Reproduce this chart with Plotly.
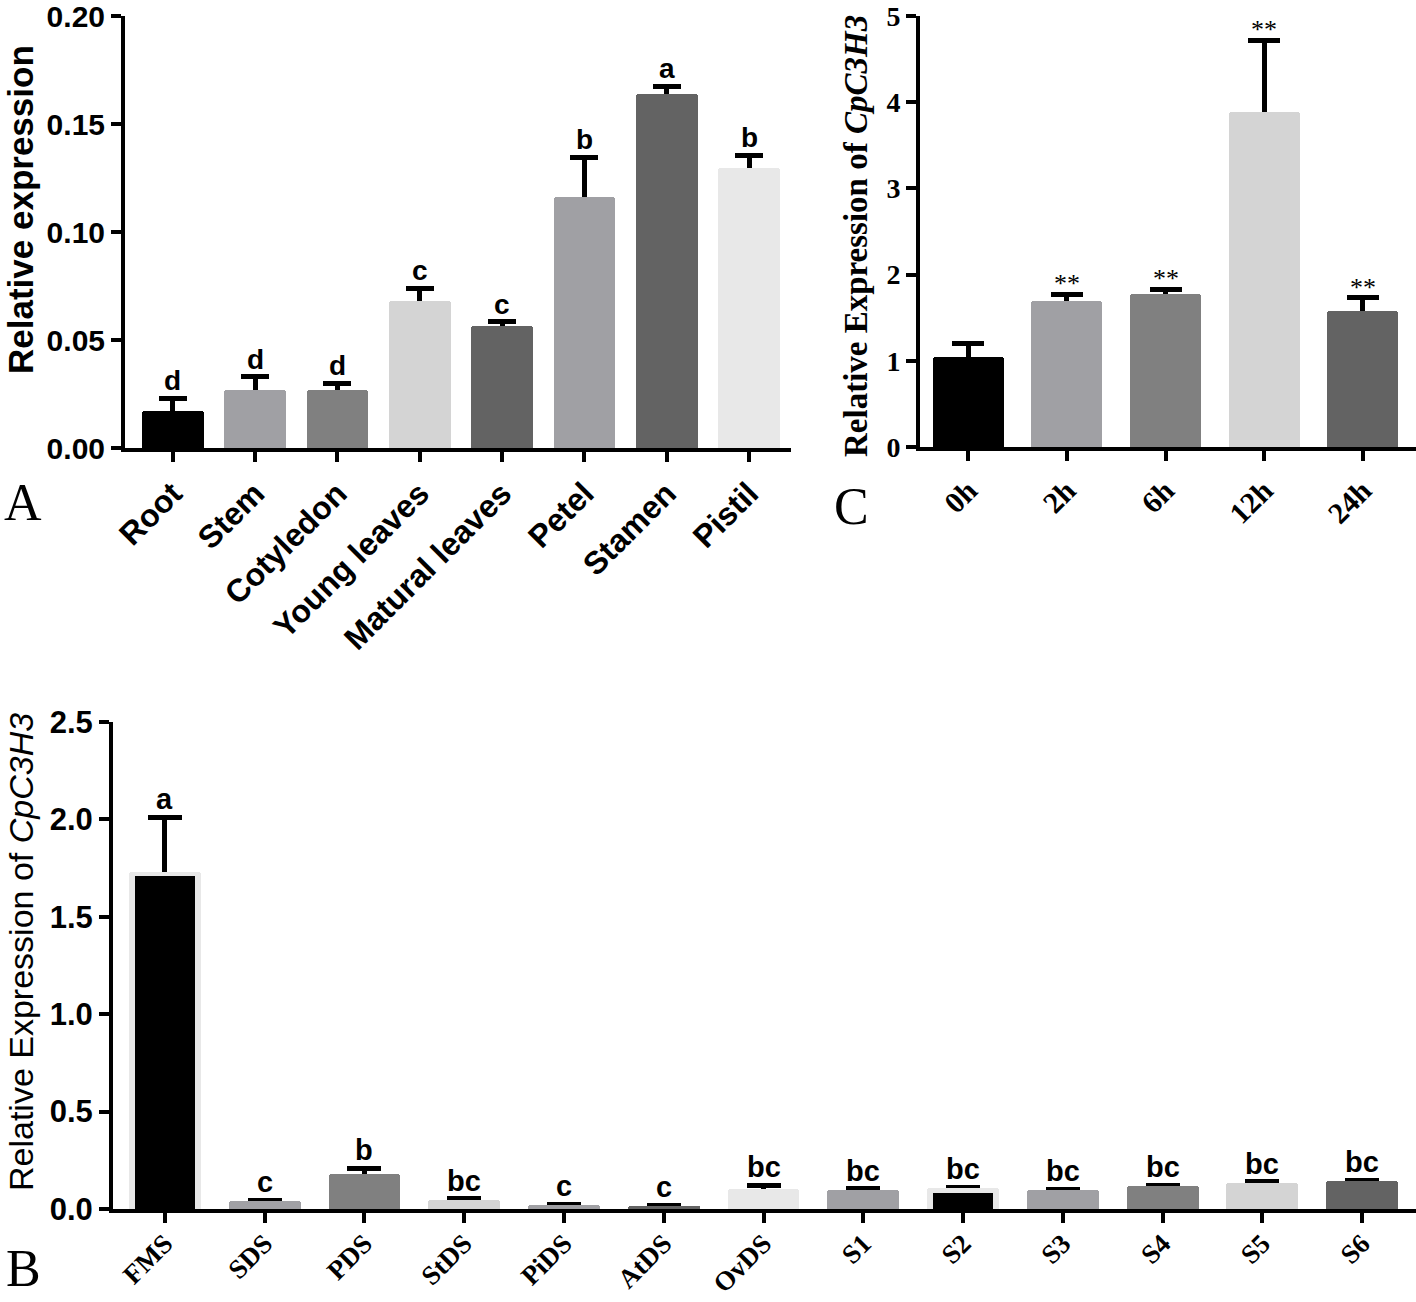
import plotly.graph_objects as go

# ---------------- Data ----------------
# Panel A
a_categories = ["Root", "Stem", "Cotyledon", "Young leaves", "Matural leaves", "Petel", "Stamen", "Pistil"]
a_values = [0.017, 0.027, 0.027, 0.068, 0.0565, 0.116, 0.164, 0.1295]
a_errors = [0.006, 0.006, 0.003, 0.006, 0.002, 0.0185, 0.0035, 0.006]
a_letters = ["d", "d", "d", "c", "c", "b", "a", "b"]

# Panel C
c_categories = ["0h", "2h", "6h", "12h", "24h"]
c_values = [1.04, 1.69, 1.77, 3.89, 1.58]
c_errors = [0.16, 0.08, 0.06, 0.83, 0.15]
c_marks = ["", "**", "**", "**", "**"]

# Panel B
b_categories = ["FMS", "SDS", "PDS", "StDS", "PiDS", "AtDS", "OvDS", "S1", "S2", "S3", "S4", "S5", "S6"]
b_values = [1.73, 0.04, 0.178, 0.047, 0.02, 0.015, 0.103, 0.1, 0.108, 0.097, 0.118, 0.135, 0.142]
b_errors = [0.28, 0.006, 0.03, 0.005, 0.004, 0.003, 0.02, 0.004, 0.004, 0.004, 0.005, 0.006, 0.006]
b_inner_categories = ["FMS", "S2"]
b_inner_values = [1.71, 0.08]
b_letters = ["a", "c", "b", "bc", "c", "c", "bc", "bc", "bc", "bc", "bc", "bc", "bc"]

# ---------------- Styles ----------------
BLACK = "#000000"
G1 = "#a0a0a4"
G2 = "#808080"
G3 = "#d4d4d4"
G4 = "#636363"
G5 = "#e8e8e8"
a_colors = [BLACK, G1, G2, G3, G4, G1, G4, G5]
c_colors = [BLACK, G1, G2, G3, G4]
b_colors = [G5, G1, G2, G3, G1, G4, G5, G1, G5, G1, G2, G3, G4]

SANS = "Arial, Liberation Sans, sans-serif"
SERIF = "Times New Roman, Liberation Serif, serif"

W, H = 1416, 1302


def px_x(p):
    return p / W


def px_y(p):
    return 1 - p / H


fig = go.Figure()


def add_bars(cats, vals, errs, colors, width, xa, ya, cap):
    # bars with upper error bars (lower part reaches the baseline and is hidden by the cover bars)
    fig.add_trace(go.Bar(
        x=cats, y=vals, xaxis=xa, yaxis=ya,
        marker=dict(color=colors, line=dict(width=0)), width=width,
        error_y=dict(type="data", array=errs, arrayminus=list(vals), symmetric=False,
                     color="black", thickness=5, width=cap),
        showlegend=False, hoverinfo="skip"))
    # cover bars (same data) hide the part of the error bar inside the bar
    fig.add_trace(go.Bar(
        x=cats, y=vals, xaxis=xa, yaxis=ya,
        marker=dict(color=colors, line=dict(width=0)), width=width,
        showlegend=False, hoverinfo="skip"))


add_bars(a_categories, a_values, a_errors, a_colors, 0.75, "x", "y", 14)
add_bars(c_categories, c_values, c_errors, c_colors, 0.72, "x2", "y2", 16)
add_bars(b_categories, b_values, b_errors, b_colors, 0.72, "x3", "y3", 17)
fig.add_trace(go.Bar(
    x=b_inner_categories, y=b_inner_values, xaxis="x3", yaxis="y3",
    marker=dict(color=BLACK, line=dict(width=0)), width=0.6,
    showlegend=False, hoverinfo="skip"))

annotations = []
for cat, v, e, t in zip(a_categories, a_values, a_errors, a_letters):
    annotations.append(dict(x=cat, y=v + e, xref="x", yref="y", text=t, showarrow=False,
                            yanchor="bottom", yshift=0,
                            font=dict(family=SANS, size=28, color="black", weight="bold")))
for cat, v, e, t in zip(c_categories, c_values, c_errors, c_marks):
    if t:
        annotations.append(dict(x=cat, y=v + e, xref="x2", yref="y2", text=t, showarrow=False,
                                yanchor="bottom", yshift=-6,
                                font=dict(family=SERIF, size=26, color="black")))
for cat, v, e, t in zip(b_categories, b_values, b_errors, b_letters):
    annotations.append(dict(x=cat, y=v + e, xref="x3", yref="y3", text=t, showarrow=False,
                            yanchor="bottom", yshift=0,
                            font=dict(family=SANS, size=29, color="black", weight="bold")))

# Axis titles
annotations.append(dict(x=px_x(21), y=px_y(210), xref="paper", yref="paper",
                        text="<b>Relative expression</b>", textangle=-90, showarrow=False,
                        xanchor="center", yanchor="middle",
                        font=dict(family=SANS, size=35, color="black")))
annotations.append(dict(x=px_x(856), y=px_y(236), xref="paper", yref="paper",
                        text="<b>Relative Expression of <i>CpC3H3</i></b>", textangle=-90, showarrow=False,
                        xanchor="center", yanchor="middle",
                        font=dict(family=SERIF, size=33, color="black")))
annotations.append(dict(x=px_x(21), y=px_y(952), xref="paper", yref="paper",
                        text="Relative Expression of <i>CpC3H3</i>", textangle=-90, showarrow=False,
                        xanchor="center", yanchor="middle",
                        font=dict(family=SANS, size=34, color="black")))

# Panel letters
for letter, lx, ly in [("A", 23, 503), ("C", 852, 506), ("B", 23, 1268)]:
    annotations.append(dict(x=px_x(lx), y=px_y(ly), xref="paper", yref="paper", text=letter,
                            showarrow=False, xanchor="center", yanchor="middle",
                            font=dict(family=SERIF, size=52, color="black")))

axis_common = dict(showline=True, linecolor="black", linewidth=4, ticks="outside",
                   ticklen=10, tickwidth=4, tickcolor="black", showgrid=False, zeroline=False,
                   automargin=False, ticklabeloverflow="allow")

fig.update_layout(
    template="none",
    width=W, height=H, margin=dict(l=0, r=0, t=0, b=0, autoexpand=False),
    paper_bgcolor="white", plot_bgcolor="white",
    barmode="overlay", bargap=0, barcornerradius=3,
    annotations=annotations,
    xaxis=dict(domain=[px_x(125), px_x(791)], anchor="y", type="category",
               range=[-0.58, 7.51], tickangle=-45,
               tickfont=dict(family=SANS, size=32, color="black", weight="bold"), **axis_common),
    yaxis=dict(domain=[px_y(448), px_y(16)], anchor="x", range=[0, 0.2],
               tickvals=[0, 0.05, 0.1, 0.15, 0.2], tickformat=".2f",
               tickfont=dict(family=SANS, size=30, color="black", weight="bold"), **axis_common),
    xaxis2=dict(domain=[px_x(920), 1.0], anchor="y2", type="category",
                range=[-0.49, 4.54], tickangle=-45,
                tickfont=dict(family=SERIF, size=30, color="black", weight="bold"), **axis_common),
    yaxis2=dict(domain=[px_y(447), px_y(16)], anchor="x2", range=[0, 5],
                tickvals=[0, 1, 2, 3, 4, 5],
                tickfont=dict(family=SERIF, size=28, color="black", weight="bold"), **axis_common),
    xaxis3=dict(domain=[px_x(113), 1.0], anchor="y3", type="category",
                range=[-0.52, 12.54], tickangle=-45, ticklabelstandoff=-6,
                tickfont=dict(family=SERIF, size=27, color="black", weight="bold"), **axis_common),
    yaxis3=dict(domain=[px_y(1209), px_y(722)], anchor="x3", range=[0, 2.5],
                tickvals=[0, 0.5, 1.0, 1.5, 2.0, 2.5], tickformat=".1f",
                tickfont=dict(family=SANS, size=31, color="black", weight="bold"), **axis_common),
)

fig.write_html("out.html", config={"displayModeBar": False},
               post_script="document.body.style.margin='0px';document.body.style.padding='0px';")
